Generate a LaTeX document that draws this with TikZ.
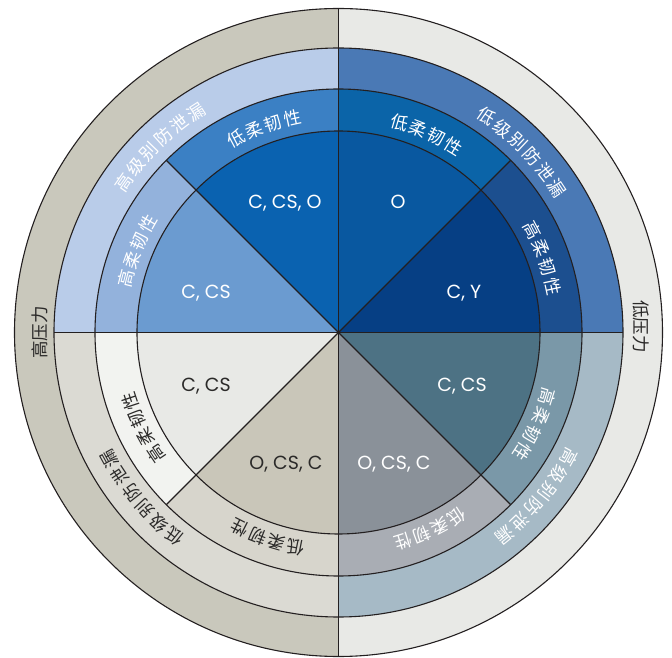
\documentclass[tikz,border=0pt]{standalone}
\usepackage{fontspec}
\setmainfont{Poppins}
\newfontfamily\cjkfont{Noto Sans CJK SC}
\definecolor{linec}{HTML}{231F20}
\definecolor{darktxt}{HTML}{2B2A29}
\definecolor{presL}{HTML}{C9C8BC}
\definecolor{presR}{HTML}{E8E9E6}
\definecolor{tlO}{HTML}{B9CCE9}
\definecolor{tlMa}{HTML}{3B80C4}
\definecolor{tlMb}{HTML}{93B2DC}
\definecolor{tlIa}{HTML}{0A62B0}
\definecolor{tlIb}{HTML}{6B9BD0}
\definecolor{trO}{HTML}{4A79B5}
\definecolor{trMa}{HTML}{0B64A8}
\definecolor{trMb}{HTML}{1C4F8F}
\definecolor{trIa}{HTML}{0958A0}
\definecolor{trIb}{HTML}{063F84}
\definecolor{brO}{HTML}{A6BAC6}
\definecolor{brMa}{HTML}{7A98A8}
\definecolor{brMb}{HTML}{A9ADB4}
\definecolor{brIa}{HTML}{4D7284}
\definecolor{brIb}{HTML}{8A9199}
\definecolor{blO}{HTML}{DBDAD3}
\definecolor{blMa}{HTML}{F2F3F0}
\definecolor{blMb}{HTML}{D7D5CC}
\definecolor{blIa}{HTML}{E8E9E6}
\definecolor{blIb}{HTML}{C9C6B9}
\tikzset{
  edge/.style={draw=linec, line width=1.1pt},
  cjklbl/.style={font=\cjkfont\fontsize{17.5pt}{18pt}\selectfont, inner sep=0pt},
  latlbl/.style={font=\fontsize{19pt}{21pt}\selectfont, inner sep=0pt, text height=13.2pt, text depth=0pt},
}
\newcommand\ringseg[5]{\fill[#1] (#4:#2) arc[start angle=#4,end angle=#5,radius=#2] -- (#5:#3) arc[start angle=#5,end angle=#4,radius=#3] -- cycle;}
\newcommand\pieseg[4]{\fill[#1] (0pt,0pt) -- (#3:#2) arc[start angle=#3,end angle=#4,radius=#2] -- cycle;}
\newcommand\arclabel[7]{%
  \foreach \ch [count=\i from 0] in {#7} {%
    \pgfmathsetmacro\ang{#2+((#5-1)/2-\i)*#4}%
    \node[cjklbl, text=#6, rotate=\ang-90] (#1-\i) at (\ang:#3pt) {\ch};
  }}
\begin{document}
\begin{tikzpicture}
\useasboundingbox (-338.5pt,-325.5pt) rectangle (333.5pt,332.5pt);
% outer pressure ring
\ringseg{presL}{324pt}{284.5pt}{90}{270}
\ringseg{presR}{324pt}{284.5pt}{-90}{90}
% leak-level ring
\ringseg{tlO}{284.5pt}{243.5pt}{90}{180}
\ringseg{trO}{284.5pt}{243.5pt}{0}{90}
\ringseg{brO}{284.5pt}{243.5pt}{-90}{0}
\ringseg{blO}{284.5pt}{243.5pt}{180}{270}
% flexibility ring
\ringseg{tlMa}{243.5pt}{201.5pt}{90}{135}
\ringseg{tlMb}{243.5pt}{201.5pt}{135}{180}
\ringseg{trMa}{243.5pt}{201.5pt}{45}{90}
\ringseg{trMb}{243.5pt}{201.5pt}{0}{45}
\ringseg{brMa}{243.5pt}{201.5pt}{-45}{0}
\ringseg{brMb}{243.5pt}{201.5pt}{-90}{-45}
\ringseg{blMb}{243.5pt}{201.5pt}{-135}{-90}
\ringseg{blMa}{243.5pt}{201.5pt}{180}{225}
% inner pie
\pieseg{tlIa}{201.5pt}{90}{135}
\pieseg{tlIb}{201.5pt}{135}{180}
\pieseg{trIa}{201.5pt}{45}{90}
\pieseg{trIb}{201.5pt}{0}{45}
\pieseg{brIa}{201.5pt}{-45}{0}
\pieseg{brIb}{201.5pt}{-90}{-45}
\pieseg{blIb}{201.5pt}{-135}{-90}
\pieseg{blIa}{201.5pt}{180}{225}
% outlines
\coordinate (c) at (0pt,0pt);
\foreach \r in {324,284.5,243.5,201.5} {\draw[edge] (c) circle[radius=\r pt];}
\coordinate (vt) at (90:324pt);
\coordinate (vb) at (-90:324pt);
\coordinate (hl) at (180:284.5pt);
\coordinate (hr) at (0:284.5pt);
\coordinate (d1) at (45:243.5pt);
\coordinate (d2) at (-135:243.5pt);
\coordinate (d3) at (135:243.5pt);
\coordinate (d4) at (-45:243.5pt);
\draw[edge] (vt) -- (vb);
\draw[edge] (hl) -- (hr);
\draw[edge] (d1) -- (d2);
\draw[edge] (d3) -- (d4);
% pressure labels
\node[cjklbl, text=darktxt, rotate=90] (hp) at (-298.5pt,0pt) {高压力};
\node[cjklbl, text=darktxt, rotate=-90] (lp) at (303pt,6pt) {低压力};
% leak-level labels
\arclabel{o1}{134}{262}{4.45}{6}{white}{高,级,别,防,泄,漏}
\arclabel{o2}{44.5}{262}{4.45}{6}{white}{低,级,别,防,泄,漏}
\arclabel{o3}{-39.5}{262}{4.45}{6}{white}{高,级,别,防,泄,漏}
\arclabel{o4}{-140}{262}{4.45}{6}{darktxt}{低,级,别,防,泄,漏}
% flexibility labels
\arclabel{m1}{110}{219}{5.2}{4}{white}{低,柔,韧,性}
\arclabel{m2}{158}{219}{5.2}{4}{white}{高,柔,韧,性}
\arclabel{m3}{66}{219}{5.2}{4}{white}{低,柔,韧,性}
\arclabel{m4}{20}{219}{5.2}{4}{white}{高,柔,韧,性}
\arclabel{m5}{-25}{219}{5.2}{4}{white}{高,柔,韧,性}
\arclabel{m6}{-65}{219}{5.2}{4}{white}{低,柔,韧,性}
\arclabel{m7}{-109}{219}{5.2}{4}{darktxt}{低,柔,韧,性}
\arclabel{m8}{-154}{219}{5.2}{4}{darktxt}{高,柔,韧,性}
% inner labels
\node[latlbl, text=white] (i1) at (-53.5pt,130.5pt) {C, CS, O};
\node[latlbl, text=white] (i2) at (-132.5pt,40.5pt) {C, CS};
\node[latlbl, text=white] (i3) at (59.5pt,130.5pt) {O};
\node[latlbl, text=white] (i4) at (125.5pt,40.5pt) {C, Y};
\node[latlbl, text=white] (i5) at (123.5pt,-52.5pt) {C, CS};
\node[latlbl, text=white] (i6) at (55.5pt,-130.5pt) {O, CS, C};
\node[latlbl, text=darktxt] (i7) at (-132.5pt,-52.5pt) {C, CS};
\node[latlbl, text=darktxt] (i8) at (-52.5pt,-130.5pt) {O, CS, C};
\end{tikzpicture}
\end{document}
